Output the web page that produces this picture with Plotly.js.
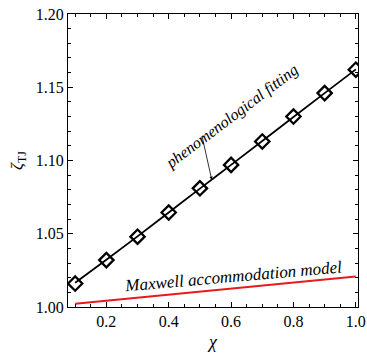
<!DOCTYPE html>
<html>
<head>
<meta charset="utf-8">
<script src="https://cdn.plot.ly/plotly-3.0.1.min.js"></script>
<style>
html,body{margin:0;padding:0;background:#fff;}
#chart{width:367px;height:356px;}
#chart text{font-family:'Liberation Serif' !important;}
</style>
</head>
<body>
<div id="chart"></div>
<script>
// Data
const chi = [0.1, 0.2, 0.3, 0.4, 0.5, 0.6, 0.7, 0.8, 0.9, 1.0];
const zetaPoints = [1.016, 1.032, 1.048, 1.0645, 1.081, 1.097, 1.113, 1.130, 1.146, 1.162];
const fitChi = [0.1, 0.2, 0.3, 0.4, 0.5, 0.6, 0.7, 0.8, 0.9, 1.0];
const fitZeta = [1.0165, 1.0322, 1.0482, 1.0645, 1.0808, 1.0970, 1.1133, 1.1297, 1.1460, 1.1622];
const maxwellChi = [0.1, 1.0];
const maxwellZeta = [1.0023, 1.0209];
const xTickVals = [0.2, 0.4, 0.6, 0.8, 1.0];
const xTickText = ['0.2', '0.4', '0.6', '0.8', '1.0'];
const yTickVals = [1.00, 1.05, 1.10, 1.15, 1.20];
const yTickText = ['1.00', '1.05', '1.10', '1.15', '1.20'];

const serif = 'Liberation Serif';

const traces = [
  {x: maxwellChi, y: maxwellZeta, mode: 'lines', line: {color: '#e8191f', width: 2}, hoverinfo: 'skip'},
  {x: fitChi, y: fitZeta, mode: 'lines', line: {color: '#000', width: 1.8, shape: 'spline'}, hoverinfo: 'skip'},
  {x: chi, y: zetaPoints, mode: 'markers', marker: {symbol: 'diamond-open', size: 11, color: '#000', line: {color: '#000', width: 2.3}}, hoverinfo: 'skip'}
];

const axisCommon = {
  showgrid: false, zeroline: false, showline: true, linecolor: '#000', linewidth: 1,
  mirror: 'ticks', ticks: 'inside', ticklen: 5, tickwidth: 1, tickcolor: '#000',
  tickfont: {family: serif, size: 16, color: '#000'}
};

const layout = {
  width: 367, height: 356,
  margin: {l: 68, r: 9, t: 14, b: 49},
  paper_bgcolor: '#fff', plot_bgcolor: '#fff',
  showlegend: false,
  font: {family: serif, color: '#000'},
  xaxis: Object.assign({}, axisCommon, {
    range: [0.077, 1.007],
    tickvals: xTickVals, ticktext: xTickText,
    minor: {dtick: 0.05, tick0: 0, ticks: 'inside', ticklen: 3, tickcolor: '#000', tickwidth: 1},
    title: {text: '<i>χ</i>', font: {family: serif, size: 18, color: '#000'}, standoff: 6}
  }),
  yaxis: Object.assign({}, axisCommon, {
    range: [1.0, 1.2],
    tickvals: yTickVals, ticktext: yTickText,
    minor: {dtick: 0.01, tick0: 1.0, ticks: 'inside', ticklen: 3, tickcolor: '#000', tickwidth: 1},
    title: {text: '<i>ζ</i><sub>TJ</sub>', font: {family: serif, size: 17, color: '#000'}, standoff: 8}
  }),
  annotations: [
    {x: 0.600, y: 1.1300, xref: 'x', yref: 'y', text: '<i>phenomenological fitting</i>', showarrow: false,
     textangle: -37, font: {family: serif, size: 16, color: '#000'}},
    {x: 0.605, y: 1.0205, xref: 'x', yref: 'y', text: '<i>Maxwell accommodation model</i>', showarrow: false,
     textangle: -5, font: {family: serif, size: 17, color: '#000'}},
    {x: 0.538, y: 1.0868, xref: 'x', yref: 'y', text: '', showarrow: true, axref: 'pixel', ayref: 'pixel',
     ax: -10, ay: -45, arrowhead: 2, arrowsize: 0.8, arrowwidth: 0.8, arrowcolor: '#000', standoff: 0}
  ]
};

Plotly.newPlot('chart', traces, layout, {staticPlot: true, displayModeBar: false});
</script>
</body>
</html>
